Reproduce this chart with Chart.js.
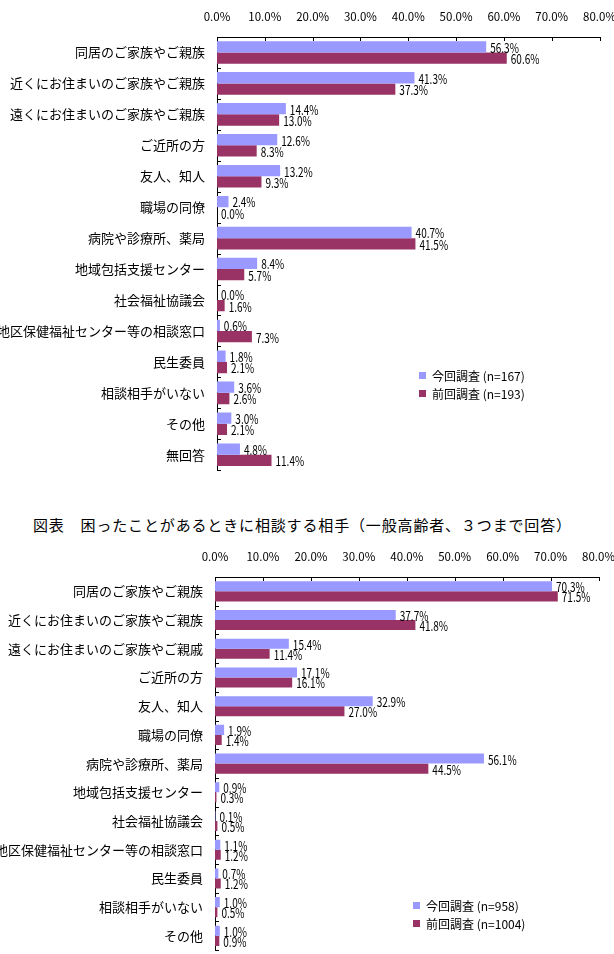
<!DOCTYPE html>
<html lang="ja">
<head>
<meta charset="utf-8">
<title>相談する相手</title>
<script src="https://cdn.jsdelivr.net/npm/chart.js@4.4.1/dist/chart.umd.min.js"></script>
<style>
  html, body { margin: 0; padding: 0; background: #fff; overflow: hidden; }
  body { width: 614px; height: 954px; position: relative; font-family: "Noto Sans CJK JP", sans-serif; }
  .box { position: absolute; left: 0; width: 640px; }
  #topBox { top: 0; height: 490px; }
  #bottomBox { top: 540px; height: 430px; }
  .title { position: absolute; left: 33px; top: 514px; font-size: 15px; letter-spacing: 0.85px; white-space: nowrap; color: #000; }
</style>
</head>
<body>
<div class="box" id="topBox"><canvas id="chartTop" width="629" height="490"></canvas></div>
<div class="title">図表　困ったことがあるときに相談する相手（一般高齢者、３つまで回答）</div>
<div class="box" id="bottomBox"><canvas id="chartBottom" width="628" height="430"></canvas></div>

<script>
// --- data ---
const topCategories = [
    '同居のご家族やご親族', '近くにお住まいのご家族やご親族', '遠くにお住まいのご家族やご親族',
    'ご近所の方', '友人、知人', '職場の同僚', '病院や診療所、薬局', '地域包括支援センター',
    '社会福祉協議会', '地区保健福祉センター等の相談窓口', '民生委員', '相談相手がいない',
    'その他', '無回答'
];
const topCurrent  = [56.3, 41.3, 14.4, 12.6, 13.2, 2.4, 40.7, 8.4, 0.0, 0.6, 1.8, 3.6, 3.0, 4.8];
const topPrevious = [60.6, 37.3, 13.0, 8.3, 9.3, 0.0, 41.5, 5.7, 1.6, 7.3, 2.1, 2.6, 2.1, 11.4];
const topSeriesNames = ['今回調査 (n=167)', '前回調査 (n=193)'];

// bottom chart is cut off by the page after "その他"
const bottomCategories = [
    '同居のご家族やご親族', '近くにお住まいのご家族やご親族', '遠くにお住まいのご家族やご親戚',
    'ご近所の方', '友人、知人', '職場の同僚', '病院や診療所、薬局', '地域包括支援センター',
    '社会福祉協議会', '地区保健福祉センター等の相談窓口', '民生委員', '相談相手がいない',
    'その他'
];
const bottomCurrent  = [70.3, 37.7, 15.4, 17.1, 32.9, 1.9, 56.1, 0.9, 0.1, 1.1, 0.7, 1.0, 1.0];
const bottomPrevious = [71.5, 41.8, 11.4, 16.1, 27.0, 1.4, 44.5, 0.3, 0.5, 1.2, 1.2, 0.5, 0.9];
const bottomSeriesNames = ['今回調査 (n=958)', '前回調査 (n=1004)'];

const axisMax = 80;
const axisStep = 10;

const COLOR_NOW = '#9999ff';
const COLOR_PREV = '#993366';
const FONT = '"Noto Sans CJK JP", "Noto Sans", sans-serif';

Chart.defaults.font.family = FONT;
Chart.defaults.color = '#000';

// inward tick marks, value labels and the small legend
const decorPlugin = {
    id: 'decor',
    afterDatasetsDraw(chart, args, opts) {
        const ctx = chart.ctx;
        const area = chart.chartArea;
        const xs = chart.scales.x;
        const ys = chart.scales.y;
        ctx.save();

        ctx.strokeStyle = '#000';
        ctx.lineWidth = 1;
        ctx.beginPath();
        xs.ticks.forEach(t => {
            const x = Math.round(xs.getPixelForValue(t.value)) + 0.5;
            ctx.moveTo(x, area.top);
            ctx.lineTo(x, area.top + 4);
        });
        const n = ys.ticks.length;
        for (let i = 0; i <= n; i++) {
            const y = Math.round(ys.top + (ys.bottom - ys.top) * i / n) + 0.5;
            ctx.moveTo(area.left, y);
            ctx.lineTo(area.left + 4, y);
        }
        ctx.stroke();

        // value labels (narrow, like the original font)
        ctx.fillStyle = '#000';
        ctx.font = '13px ' + FONT;
        ctx.textBaseline = 'middle';
        chart.data.datasets.forEach((ds, di) => {
            chart.getDatasetMeta(di).data.forEach((bar, i) => {
                ctx.save();
                ctx.translate(bar.x + 4, bar.y + 1);
                ctx.scale(0.77, 1);
                ctx.fillText(ds.data[i].toFixed(1) + '%', 0, 0);
                ctx.restore();
            });
        });

        // legend
        ctx.font = '12px ' + FONT;
        chart.data.datasets.forEach((ds, di) => {
            const y = opts.legendY + di * opts.legendGap;
            ctx.fillStyle = ds.backgroundColor;
            ctx.fillRect(opts.legendX, y - 4, 7, 7);
            ctx.fillStyle = '#000';
            ctx.fillText(ds.label, opts.legendX + 13, y);
        });
        ctx.restore();
    }
};

function makeChart(id, labels, current, previous, names, axisWidth, catPct, legend) {
    const ctx = document.getElementById(id).getContext('2d');
    return new Chart(ctx, {
        type: 'bar',
        data: {
            labels: labels,
            datasets: [
                { label: names[0], data: current, backgroundColor: COLOR_NOW },
                { label: names[1], data: previous, backgroundColor: COLOR_PREV }
            ]
        },
        options: {
            indexAxis: 'y',
            responsive: false,
            animation: false,
            devicePixelRatio: 1,
            layout: { padding: { left: 0, right: 0, top: 0, bottom: 9 } },
            datasets: {
                bar: { categoryPercentage: catPct, barPercentage: 1.0 }
            },
            plugins: {
                legend: { display: false },
                tooltip: { enabled: false },
                decor: legend
            },
            scales: {
                x: {
                    position: 'top',
                    min: 0,
                    max: axisMax,
                    grid: { display: false, drawTicks: false },
                    border: { display: true, color: '#000', width: 1 },
                    ticks: {
                        stepSize: axisStep,
                        padding: 13,
                        font: { size: 11.5 },
                        color: '#000',
                        callback: v => v.toFixed(1) + '%'
                    },
                    afterFit: scale => { scale.height = 37; }
                },
                y: {
                    grid: { display: false, drawTicks: false },
                    border: { display: true, color: '#000', width: 1 },
                    ticks: {
                        autoSkip: false,
                        padding: 12,
                        font: { size: 13 },
                        color: '#000'
                    },
                    afterFit: scale => { scale.width = axisWidth; }
                }
            }
        },
        plugins: [decorPlugin]
    });
}

document.addEventListener('DOMContentLoaded', function() {
    makeChart('chartTop', topCategories, topCurrent, topPrevious, topSeriesNames, 217, 0.73,
        { legendX: 419, legendY: 376, legendGap: 18 });
    makeChart('chartBottom', bottomCategories, bottomCurrent, bottomPrevious, bottomSeriesNames, 215, 0.70,
        { legendX: 413, legendY: 366, legendGap: 18 });
});
</script>
</body>
</html>
